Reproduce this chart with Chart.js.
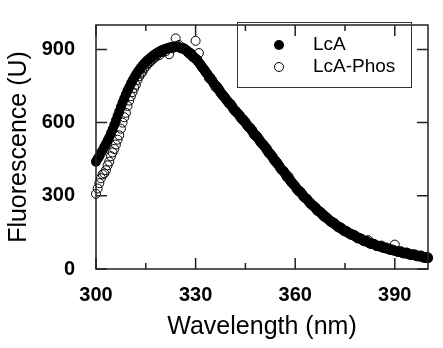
<!DOCTYPE html>
<html lang="en">
<head>
  <meta charset="UTF-8">
  <title>Fluorescence spectra</title>
  <style>
    body { margin: 0; background: #fff; }
    #wrap { width: 443px; height: 348px; }
  </style>
  <script src="https://cdn.jsdelivr.net/npm/chart.js"></script>
</head>
<body>
<div id="wrap"><canvas id="specChart" width="443" height="348"></canvas></div>

<script>
// wavelengths (nm), 0.5 nm steps
const wavelengths = [
  300,300.5,301,301.5,302,302.5,303,303.5,304,304.5,
  305,305.5,306,306.5,307,307.5,308,308.5,309,309.5,
  310,310.5,311,311.5,312,312.5,313,313.5,314,314.5,
  315,315.5,316,316.5,317,317.5,318,318.5,319,319.5,
  320,320.5,321,321.5,322,322.5,323,323.5,324,324.5,
  325,325.5,326,326.5,327,327.5,328,328.5,329,329.5,
  330,330.5,331,331.5,332,332.5,333,333.5,334,334.5,
  335,335.5,336,336.5,337,337.5,338,338.5,339,339.5,
  340,340.5,341,341.5,342,342.5,343,343.5,344,344.5,
  345,345.5,346,346.5,347,347.5,348,348.5,349,349.5,
  350,350.5,351,351.5,352,352.5,353,353.5,354,354.5,
  355,355.5,356,356.5,357,357.5,358,358.5,359,359.5,
  360,360.5,361,361.5,362,362.5,363,363.5,364,364.5,
  365,365.5,366,366.5,367,367.5,368,368.5,369,369.5,
  370,370.5,371,371.5,372,372.5,373,373.5,374,374.5,
  375,375.5,376,376.5,377,377.5,378,378.5,379,379.5,
  380,380.5,381,381.5,382,382.5,383,383.5,384,384.5,
  385,385.5,386,386.5,387,387.5,388,388.5,389,389.5,
  390,390.5,391,391.5,392,392.5,393,393.5,394,394.5,
  395,395.5,396,396.5,397,397.5,398,398.5,399,399.5,
  400
];
// LcA (filled circles)
const lcaValues = [
  440,452,462,476,487,500,512,527,540,556,
  572,590,608,627,645,664,682,699,715,731,
  745,759,772,784,795,806,815,825,833,841,
  848,855,861,867,872,877,882,886,890,894,
  897,900,903,905,907,909,910,911,911,910,
  909,907,905,902,898,893,888,882,876,869,
  862,854,846,837,828,818,809,799,790,780,
  771,761,752,743,734,725,716,707,698,690,
  681,676,664,656,648,640,632,626,616,608,
  600,591,583,576,566,557,549,542,532,523,
  515,506,497,492,479,470,461,454,443,434,
  425,416,407,400,389,380,372,365,355,346,
  338,330,322,316,307,299,292,287,278,271,
  264,257,251,246,238,232,226,222,214,208,
  203,198,193,190,183,178,173,170,164,160,
  156,152,148,146,141,137,134,132,127,124,
  121,118,115,113,109,106,104,102,99,96,
  94,92,90,89,86,84,82,81,78,76,
  75,73,71,70,68,66,65,64,62,60,
  59,57,56,55,53,51,50,49,47,45,
  44
];
// LcA-Phos (open circles)
const phosValues = [
  308,330,352,372,388,392,405,425,440,462,
  478,492,510,530,548,575,600,622,640,668,
  690,708,725,742,755,775,790,800,808,822,
  830,840,845,852,858,866,870,880,876,890,
  888,896,892,902,880,906,905,912,945,914,
  918,905,903,905,900,890,882,885,870,866,
  935,858,885,835,825,820,806,800,782,784,
  770,758,745,748,738,722,712,710,700,688,
  678,676,668,652,645,642,635,620,612,612,
  603,588,580,578,570,552,545,545,535,520,
  512,510,500,485,475,474,465,448,440,438,
  428,412,405,402,392,376,380,360,352,348,
  340,326,318,318,310,296,290,288,280,268,
  262,260,255,240,236,236,230,216,212,212,
  205,195,190,191,186,175,170,172,168,157,
  154,156,150,142,140,141,138,128,125,127,
  124,115,113,116,118,104,102,104,101,94,
  93,95,96,86,85,88,84,78,80,79,
  100,72,70,73,72,64,64,68,65,58,
  58,60,60,52,52,55,55,47,46,50,
  48
];
const xTicks = [300, 315, 330, 345, 360, 375, 390];
const xLabelTicks = [300, 330, 360, 390];
const yTicks = [0, 300, 600, 900];

const toPoints = vals => wavelengths.map((w, i) => ({ x: w, y: vals[i] }));

// 枠と内向きの目盛り、凡例ボックス
const framePlugin = {
  id: 'frame',
  afterDraw(chart) {
    const { ctx, chartArea: a, scales } = chart;
    ctx.save();
    ctx.strokeStyle = '#222';
    ctx.lineWidth = 1.5;
    ctx.strokeRect(a.left, a.top, a.right - a.left, a.bottom - a.top);
    ctx.beginPath();
    xTicks.forEach(v => {
      const px = scales.x.getPixelForValue(v);
      const len = xLabelTicks.includes(v) ? 11 : 6;
      ctx.moveTo(px, a.bottom); ctx.lineTo(px, a.bottom - len);
      ctx.moveTo(px, a.top); ctx.lineTo(px, a.top + len);
    });
    yTicks.forEach(v => {
      const py = scales.y.getPixelForValue(v);
      ctx.moveTo(a.left, py); ctx.lineTo(a.left + 11, py);
      ctx.moveTo(a.right, py); ctx.lineTo(a.right - 11, py);
    });
    ctx.stroke();

    // legend
    ctx.lineWidth = 1;
    ctx.strokeStyle = '#333';
    ctx.strokeRect(237.5, 22.5, 174, 65);
    const ds = chart.data.datasets;
    ctx.font = '19px "Liberation Sans", Arial, sans-serif';
    ctx.fillStyle = '#000';
    ctx.textBaseline = 'middle';
    [45, 67].forEach((y, i) => {
      ctx.beginPath();
      ctx.arc(279, y, i === 0 ? 5 : 4.5, 0, Math.PI * 2);
      if (i === 0) { ctx.fill(); } else { ctx.strokeStyle = '#000'; ctx.stroke(); }
      ctx.fillText(ds[i].label, 313, y);
    });
    ctx.restore();
  }
};

new Chart(document.getElementById('specChart'), {
  type: 'scatter',
  data: {
    datasets: [
      { label: 'LcA', data: toPoints(lcaValues), pointRadius: 5, pointBackgroundColor: '#000',
        pointBorderColor: '#000', pointBorderWidth: 0, showLine: false, clip: false },
      { label: 'LcA-Phos', data: toPoints(phosValues), pointRadius: 4.5, pointBackgroundColor: 'rgba(0,0,0,0)',
        pointBorderColor: '#000', pointBorderWidth: 1, showLine: false, clip: false }
    ]
  },
  options: {
    responsive: false,
    animation: false,
    layout: { padding: { top: 8, right: 15, left: 0, bottom: 0 } },
    plugins: { legend: { display: false }, tooltip: { enabled: false } },
    scales: {
      x: {
        type: 'linear', min: 300, max: 400,
        afterBuildTicks: s => { s.ticks = xTicks.map(v => ({ value: v })); },
        afterFit: s => { s.height = 79; },
        grid: { display: false },
        border: { display: false },
        ticks: {
          padding: 6, color: '#000', maxRotation: 0, autoSkip: false,
          font: { family: '"Liberation Sans", Arial, sans-serif', size: 20, weight: 'bold' },
          callback: v => xLabelTicks.includes(v) ? String(v) : ''
        },
        title: {
          display: true, text: 'Wavelength (nm)', color: '#000',
          font: { family: '"Liberation Sans", Arial, sans-serif', size: 25 },
          padding: { top: 0, bottom: 6 }
        }
      },
      y: {
        type: 'linear', min: 0, max: 1000,
        afterBuildTicks: s => { s.ticks = yTicks.map(v => ({ value: v })); },
        afterFit: s => { s.width = 96; },
        grid: { display: false },
        border: { display: false },
        ticks: {
          padding: 13, color: '#000',
          font: { family: '"Liberation Sans", Arial, sans-serif', size: 20, weight: 'bold' }
        },
        title: {
          display: true, text: 'Fluorescence (U)', color: '#000',
          font: { family: '"Liberation Sans", Arial, sans-serif', size: 25 },
          padding: { top: 4, bottom: 0 }
        }
      }
    }
  },
  plugins: [framePlugin]
});
</script>
</body>
</html>
